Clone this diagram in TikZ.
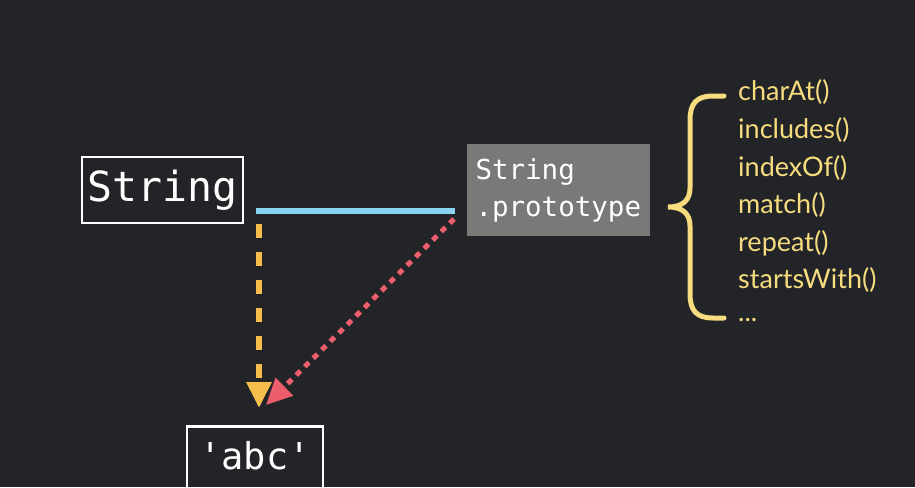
\documentclass[tikz,border=0pt]{standalone}
\usepackage{fontspec}
\setmonofont{DejaVu Sans Mono}
\newfontfamily\methfont{Lato}
\usetikzlibrary{arrows.meta}
\definecolor{bgc}{HTML}{222428}
\definecolor{bluec}{HTML}{88D4F0}
\definecolor{orangec}{HTML}{F5BE4C}
\definecolor{redc}{HTML}{EC5E6C}
\definecolor{yelc}{HTML}{F6DC7E}
\definecolor{grayc}{HTML}{787A78}
\tikzset{
  codebox/.style={draw=white, line width=2.5pt, text=white, font=\ttfamily, inner sep=0pt},
  protobox/.style={fill=grayc, text=white, font=\ttfamily\fontsize{27.5}{37}\selectfont, align=left, inner sep=0pt, minimum width=183pt, minimum height=92pt, text width=166pt},
  meth/.style={text=yelc, font=\methfont\fontsize{27}{28}\selectfont, anchor=west, inner sep=0pt},
  bluelink/.style={draw=bluec, line width=6pt},
  orangelink/.style={draw=orangec, line width=6pt, dash pattern=on 14pt off 14pt, -{Triangle[length=26pt,width=24pt,fill=orangec]}},
  redlink/.style={draw=redc, line width=5pt, dash pattern=on 6pt off 6pt, -{Triangle[length=26pt,width=24pt,fill=redc]}},
  bracec/.style={draw=yelc, line width=5pt, line cap=round}
}
\begin{document}
\begin{tikzpicture}[x=1pt,y=-1pt]
\fill[bgc] (0,0) rectangle (915,487);
\useasboundingbox (0,0) rectangle (915,487);
\clip (0,0) rectangle (915,487);
\node[codebox, minimum width=161pt, minimum height=66pt, font=\ttfamily\fontsize{41.5}{41.5}\selectfont] (str) at (162.5,190) {String};
\node[protobox] (proto) at (558.5,190) {String\\.prototype};
\node[codebox, minimum width=136pt, inner ysep=13pt, text height=30pt, text depth=20pt, font=\ttfamily\fontsize{37}{37}\selectfont, anchor=north] (abc) at (255,425) {'abc'};
\coordinate (b1) at (256,211);
\coordinate (b2) at (455,211);
\coordinate (o1) at (259,224);
\coordinate (o2) at (259,408);
\coordinate (r1) at (454,219);
\coordinate (r2) at (266,405);
\draw[bluelink] (b1) -- (b2);
\draw[orangelink] (o1) -- (o2);
\draw[redlink] (r1) -- (r2);
\draw[bracec] (724,96) -- (713,96) .. controls (697,96) and (690,103) .. (690,120) -- (690,188) .. controls (690,200) and (683,207) .. (668,207) .. controls (683,207) and (690,214) .. (690,226) -- (690,294) .. controls (690,311) and (697,318) .. (713,318) -- (724,318);
\node[meth] (m1) at (738,92) {charAt()};
\node[meth] (m2) at (738,130) {includes()};
\node[meth] (m3) at (738,168) {indexOf()};
\node[meth] (m4) at (738,205) {match()};
\node[meth] (m5) at (738,243) {repeat()};
\node[meth] (m6) at (738,280) {startsWith()};
\node[meth] (m7) at (738,320) {...};
\end{tikzpicture}
\end{document}
